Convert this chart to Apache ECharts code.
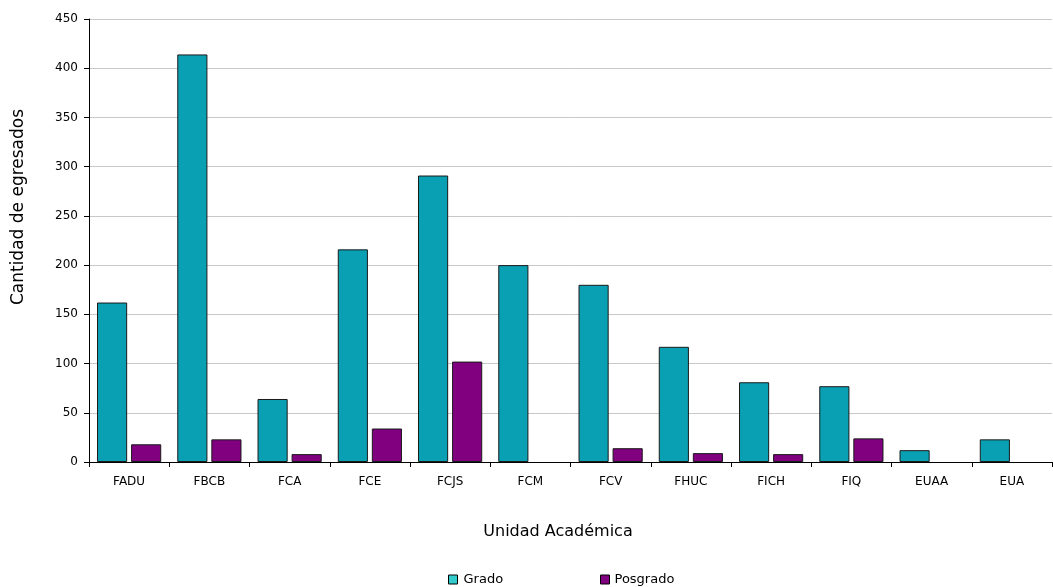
<!DOCTYPE html>
<html><head><meta charset="utf-8">
<script src="https://cdn.jsdelivr.net/npm/echarts@6/dist/echarts.min.js"></script>
<style>html,body{margin:0;padding:0;background:#fff}#c{width:1053px;height:587px}</style>
</head><body><div id="c"></div>
<script>
const categories = ['FADU','FBCB','FCA','FCE','FCJS','FCM','FCV','FHUC','FICH','FIQ','EUAA','EUA'];
const grado = [162, 414, 64, 216, 291, 200, 180, 117, 81, 77, 12, 23];
const posgrado = [18, 23, 8, 34, 102, null, 14, 9, 8, 24, null, null];
const yTicks = [0, 50, 100, 150, 200, 250, 300, 350, 400, 450];

const font = '"DejaVu Sans", Verdana, sans-serif';
const chart = echarts.init(document.getElementById('c'), null, {renderer: 'canvas'});
chart.setOption({
  animation: false,
  backgroundColor: '#fff',
  grid: {left: 89, right: 1, top: 19, bottom: 125},
  legend: [
    {data: [{name: 'Grado', itemStyle: {color: '#33cccc', borderColor: '#000', borderWidth: 1}}],
     left: 448, top: 573, padding: 0, itemWidth: 9, itemHeight: 9, itemGap: 3, icon: 'rect',
     textStyle: {fontFamily: font, fontSize: 13, color: '#000', padding: [0,0,0,1]}},
    {data: [{name: 'Posgrado', itemStyle: {color: '#800080', borderColor: '#000', borderWidth: 1}}],
     left: 600, top: 573, padding: 0, itemWidth: 9, itemHeight: 9, itemGap: 3, icon: 'rect',
     textStyle: {fontFamily: font, fontSize: 13, color: '#000', padding: [0,0,0,0]}}
  ],
  graphic: [
    {type: 'text', x: 19, y: 207, rotation: Math.PI / 2,
     style: {text: 'Cantidad de egresados', fontFamily: font, fontSize: 17, fill: '#000',
             align: 'center', verticalAlign: 'middle'}},
    {type: 'text', x: 558, y: 532,
     style: {text: 'Unidad Académica', fontFamily: font, fontSize: 16, fill: '#000',
             align: 'center', verticalAlign: 'middle'}}
  ],
  xAxis: {
    type: 'category', data: categories,
    axisLine: {lineStyle: {color: '#000', width: 1}},
    axisTick: {show: true, alignWithLabel: false, length: 5, lineStyle: {color: '#000'}},
    axisLabel: {fontFamily: font, fontSize: 12, color: '#000', margin: 14, interval: 0},
    splitLine: {show: false}
  },
  yAxis: {
    type: 'value', min: 0, max: 450, interval: 50,
    axisLine: {show: true, lineStyle: {color: '#000', width: 1}},
    axisTick: {show: true, length: 5, lineStyle: {color: '#000'}},
    axisLabel: {fontFamily: font, fontSize: 12, color: '#000', margin: 11,
      formatter: v => yTicks.includes(v) ? String(v) : ''},
    splitLine: {show: true, lineStyle: {color: '#c8c8c8', width: 1}}
  },
  series: [
    {name: 'Grado', type: 'bar', data: grado, barGap: '13%', barCategoryGap: '20%',
     itemStyle: {color: '#0aa0b4', borderColor: '#1a1a1a', borderWidth: 1}},
    {name: 'Posgrado', type: 'bar', data: posgrado,
     itemStyle: {color: '#800080', borderColor: '#1a1a1a', borderWidth: 1}}
  ]
});
</script></body></html>
